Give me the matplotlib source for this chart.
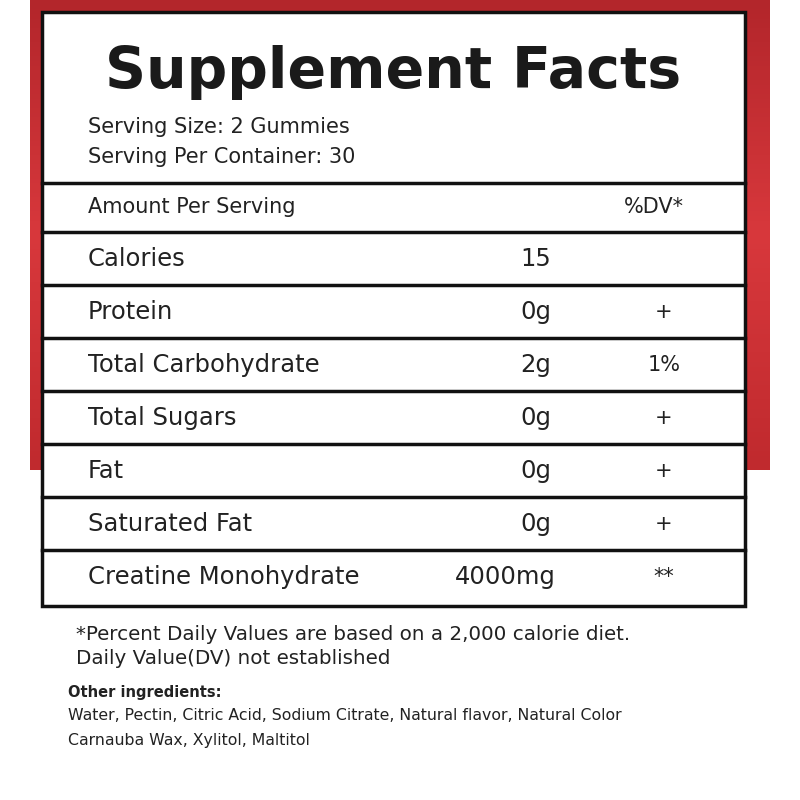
import matplotlib.pyplot as plt
from matplotlib.patches import Rectangle
from matplotlib.colors import LinearSegmentedColormap
import numpy as np

plt.rcParams['font.family'] = ['DejaVu Sans']

title = "Supplement Facts"
serving = ["Serving Size: 2 Gummies", "Serving Per Container: 30"]
nutrients = ["Calories", "Protein", "Total Carbohydrate", "Total Sugars",
             "Fat", "Saturated Fat", "Creatine Monohydrate"]
amounts = ["15", "0g", "2g", "0g", "0g", "0g", "4000mg"]
dv = ["", "+", "1%", "+", "+", "+", "**"]
footnote = ["*Percent Daily Values are based on a 2,000 calorie diet.",
            "Daily Value(DV) not established"]
other_title = "Other ingredients:"
other = ["Water, Pectin, Citric Acid, Sodium Citrate, Natural flavor, Natural Color",
         "Carnauba Wax, Xylitol, Maltitol"]

fig = plt.figure(figsize=(8, 8), dpi=100)
ax = fig.add_axes([0, 0, 1, 1])
ax.set_xlim(0, 800)
ax.set_ylim(800, 0)
ax.axis('off')

# red background with a vertical gradient
grad = np.linspace(0, 1, 100).reshape(-1, 1)
cmap = LinearSegmentedColormap.from_list('r', ['#b3262b', '#d8383c', '#c02a2e'])
ax.imshow(grad, extent=(30, 770, 470, 0), cmap=cmap, aspect='auto', zorder=0)

# label box
ax.add_patch(Rectangle((42, 12), 703, 594, facecolor='white', edgecolor='#111111',
                       lw=2.5, zorder=1))

ax.text(393, 72, title, fontsize=41, fontweight='bold', ha='center', va='center',
        color='#1a1a1a', zorder=2)
ax.text(88, 127, serving[0], fontsize=15, va='center', color='#222222', zorder=2)
ax.text(88, 157, serving[1], fontsize=15, va='center', color='#222222', zorder=2)

for y in [183, 232, 285, 338, 391, 444, 497, 550]:
    ax.plot([42, 745], [y, y], color='#111111', lw=2.5, zorder=2)

ax.text(88, 207, "Amount Per Serving", fontsize=15, va='center', color='#222222', zorder=2)
ax.text(654, 207, "%DV*", fontsize=15, va='center', ha='center', color='#222222', zorder=2)

for i, (n, a, d) in enumerate(zip(nutrients, amounts, dv)):
    y = 259 + i * 53
    ax.text(88, y, n, fontsize=17.5, va='center', color='#222222', zorder=2)
    if len(a) > 3:
        ax.text(556, y, a, fontsize=17.5, va='center', ha='right', color='#222222', zorder=2)
    else:
        ax.text(520, y, a, fontsize=17.5, va='center', ha='left', color='#222222', zorder=2)
    ax.text(664, y, d, fontsize=15, va='center', ha='center', color='#222222', zorder=2)

ax.text(76, 634, footnote[0], fontsize=14.3, va='center', color='#222222')
ax.text(76, 659, footnote[1], fontsize=14.3, va='center', color='#222222')
ax.text(68, 692, other_title, fontsize=10.5, fontweight='bold', va='center', color='#222222')
ax.text(68, 716, other[0], fontsize=11.3, va='center', color='#222222')
ax.text(68, 740, other[1], fontsize=11.3, va='center', color='#222222')

fig.savefig('out.png', dpi=100, facecolor='white')
